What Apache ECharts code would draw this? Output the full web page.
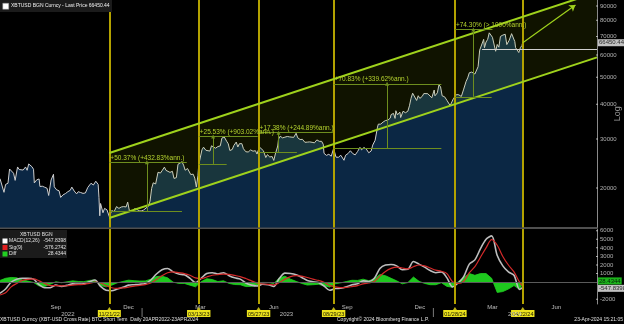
<!DOCTYPE html>
<html>
<head>
<meta charset="utf-8">
<script src="https://cdn.jsdelivr.net/npm/echarts@6.0.0/dist/echarts.min.js"></script>
<style>
html,body{margin:0;padding:0;background:#000;overflow:hidden;}
#chart{width:624px;height:324px;}
</style>
</head>
<body>
<div id="chart"></div>
<script>
// ================= DATA =================
const btcPrice = [
['2022-07-07',21600],['2022-07-09',21600],['2022-07-12',19300],['2022-07-14',20600],['2022-07-17',20800],['2022-07-19',23400],['2022-07-21',23200],['2022-07-24',22600],['2022-07-26',21300],['2022-07-29',23800],['2022-07-31',23300],['2022-08-02',22980],['2022-08-05',23200],['2022-08-08',23800],['2022-08-10',23150],['2022-08-12',24400],['2022-08-14',24300],['2022-08-16',23850],['2022-08-18',23350],['2022-08-19',20850],['2022-08-22',21400],['2022-08-25',21550],['2022-08-26',20250],['2022-08-29',20300],['2022-09-01',20130],['2022-09-04',19950],['2022-09-06',18800],['2022-09-09',21370],['2022-09-12',22400],['2022-09-13',20200],['2022-09-16',19700],['2022-09-19',19550],['2022-09-21',18500],['2022-09-24',18900],['2022-09-27',19100],['2022-09-30',19400],['2022-10-03',19620],['2022-10-05',20150],['2022-10-08',19500],['2022-10-11',19050],['2022-10-13',19400],['2022-10-16',19270],['2022-10-19',19130],['2022-10-22',19200],['2022-10-25',20100],['2022-10-27',20300],['2022-10-29',20800],['2022-11-01',20500],['2022-11-04',21150],['2022-11-06',20900],['2022-11-07',20600],['2022-11-08',18500],['2022-11-09',15900],['2022-11-10',17600],['2022-11-13',16300],['2022-11-15',16900],['2022-11-18',16700],['2022-11-21',15780],['2022-11-24',16600],['2022-11-27',16450],['2022-11-30',17150],['2022-12-03',16900],['2022-12-06',17100],['2022-12-09',17150],['2022-12-12',17100],['2022-12-14',17800],['2022-12-16',16650],['2022-12-19',16450],['2022-12-22',16820],['2022-12-25',16830],['2022-12-28',16550],['2022-12-31',16550],
['2023-01-03',16680],['2023-01-06',16950],['2023-01-09',17190],['2023-01-11',17950],['2023-01-13',19930],['2023-01-15',20880],['2023-01-18',20680],['2023-01-21',22780],['2023-01-24',22630],['2023-01-26',23060],['2023-01-29',23770],['2023-01-31',23140],['2023-02-02',23490],['2023-02-05',22760],['2023-02-08',22960],['2023-02-10',21650],['2023-02-13',21790],['2023-02-15',24330],['2023-02-17',24570],['2023-02-20',24840],['2023-02-22',24170],['2023-02-24',23170],['2023-02-27',23490],['2023-03-01',23650],['2023-03-03',22350],['2023-03-06',22430],['2023-03-08',21700],['2023-03-10',20160],['2023-03-12',22130],['2023-03-13',24200],['2023-03-15',24380],['2023-03-17',27420],['2023-03-19',28030],['2023-03-22',27310],['2023-03-24',27480],['2023-03-27',27140],['2023-03-29',28350],['2023-03-31',28470],['2023-04-03',27790],['2023-04-06',28170],['2023-04-09',28330],['2023-04-11',30210],['2023-04-14',30490],['2023-04-17',29430],['2023-04-19',28820],['2023-04-21',27260],['2023-04-24',27510],['2023-04-26',28420],['2023-04-29',29240],['2023-05-01',28070],['2023-05-03',28850],['2023-05-06',28860],['2023-05-08',27670],['2023-05-11',26990],['2023-05-14',26930],['2023-05-17',27400],['2023-05-20',27110],['2023-05-23',27230],['2023-05-25',26480],['2023-05-28',28070],['2023-05-30',27700],['2023-06-02',27220],['2023-06-05',25730],['2023-06-07',26350],['2023-06-10',25850],['2023-06-13',25940],['2023-06-15',25120],['2023-06-17',26500],['2023-06-20',28300],['2023-06-21',29990],['2023-06-23',30690],['2023-06-26',30270],['2023-06-29',30450],['2023-07-02',30620],['2023-07-05',30510],['2023-07-07',30290],['2023-07-10',30400],['2023-07-13',31450],['2023-07-15',30300],['2023-07-18',29860],['2023-07-21',29900],['2023-07-24',29180],['2023-07-27',29220],['2023-07-30',29280],['2023-08-02',29180],['2023-08-05',29050],['2023-08-08',29770],['2023-08-11',29420],['2023-08-14',29410],['2023-08-16',28700],['2023-08-17',26630],['2023-08-20',26190],['2023-08-23',26430],['2023-08-26',26010],['2023-08-29',27720],['2023-09-01',25810],['2023-09-04',25780],['2023-09-07',26220],['2023-09-11',25150],['2023-09-13',26220],['2023-09-16',26570],['2023-09-19',27210],['2023-09-22',26580],['2023-09-25',26300],['2023-09-28',27030],['2023-10-01',27980],['2023-10-03',27430],['2023-10-06',27950],['2023-10-09',27590],['2023-10-12',26760],['2023-10-15',27150],['2023-10-17',28520],['2023-10-20',29670],['2023-10-23',33090],['2023-10-24',33900],['2023-10-27',33910],['2023-10-30',34500],['2023-11-02',34940],['2023-11-05',35050],['2023-11-08',35650],['2023-11-09',36690],['2023-11-12',37050],['2023-11-14',35550],['2023-11-15',37880],['2023-11-17',36600],['2023-11-20',37470],['2023-11-21',35810],['2023-11-24',37720],['2023-11-27',37260],['2023-11-30',37720],['2023-12-02',39460],['2023-12-04',41980],['2023-12-06',43790],['2023-12-08',44170],['2023-12-11',41240],['2023-12-13',42880],['2023-12-15',41940],['2023-12-18',42650],['2023-12-20',43660],['2023-12-22',43980],['2023-12-25',43610],['2023-12-27',43440],['2023-12-30',42150],
['2024-01-02',44950],['2024-01-03',42850],['2024-01-06',43930],['2024-01-08',46970],['2024-01-10',46100],['2024-01-11',46630],['2024-01-12',42850],['2024-01-15',42510],['2024-01-18',41280],['2024-01-20',41680],['2024-01-22',39510],['2024-01-23',39850],['2024-01-26',41820],['2024-01-28',42030],['2024-01-30',43300],['2024-02-02',43190],['2024-02-05',42600],['2024-02-08',45290],['2024-02-11',48300],['2024-02-13',49700],['2024-02-15',51840],['2024-02-18',52140],['2024-02-20',52280],['2024-02-22',51300],['2024-02-24',51570],['2024-02-26',54520],['2024-02-28',62500],['2024-03-01',62390],['2024-03-04',68330],['2024-03-05',63800],['2024-03-07',66850],['2024-03-09',68310],['2024-03-11',72120],['2024-03-13',73100],['2024-03-15',69500],['2024-03-17',68390],['2024-03-19',61930],['2024-03-21',65500],['2024-03-23',64040],['2024-03-25',70000],['2024-03-28',70780],['2024-03-31',71280],['2024-04-02',65450],['2024-04-05',67850],['2024-04-08',71630],['2024-04-10',70630],['2024-04-12',67120],['2024-04-13',63800],['2024-04-15',63420],['2024-04-17',61280],['2024-04-19',63820],['2024-04-21',64940],['2024-04-22',66840],['2024-04-23',66450.44]
];
const lastPrice = 66450.44;
const priceTicks = [20000, 30000, 40000, 50000, 60000, 70000, 80000, 90000];

const macdDates = ['2022-07-07','2022-07-14','2022-07-21','2022-07-28','2022-08-04','2022-08-11','2022-08-18','2022-08-25','2022-09-01','2022-09-08','2022-09-15','2022-09-22','2022-09-29','2022-10-06','2022-10-13','2022-10-20','2022-10-27','2022-11-03','2022-11-10','2022-11-17','2022-11-24','2022-12-01','2022-12-08','2022-12-15','2022-12-22','2022-12-29','2023-01-05','2023-01-12','2023-01-19','2023-01-26','2023-02-02','2023-02-09','2023-02-16','2023-02-23','2023-03-02','2023-03-09','2023-03-16','2023-03-23','2023-03-30','2023-04-06','2023-04-13','2023-04-20','2023-04-27','2023-05-04','2023-05-11','2023-05-18','2023-05-25','2023-06-01','2023-06-08','2023-06-15','2023-06-22','2023-06-29','2023-07-06','2023-07-13','2023-07-20','2023-07-27','2023-08-03','2023-08-10','2023-08-17','2023-08-24','2023-08-31','2023-09-07','2023-09-14','2023-09-21','2023-09-28','2023-10-05','2023-10-12','2023-10-19','2023-10-26','2023-11-02','2023-11-09','2023-11-16','2023-11-23','2023-11-30','2023-12-07','2023-12-14','2023-12-21','2023-12-28','2024-01-04','2024-01-11','2024-01-18','2024-01-25','2024-02-01','2024-02-08','2024-02-15','2024-02-22','2024-02-29','2024-03-07','2024-03-14','2024-03-21','2024-03-28','2024-04-04','2024-04-11','2024-04-18','2024-04-23'];
const macdLine = [-1300,-800,0,350,450,450,350,-300,-650,-650,-350,-500,-380,-200,-220,-200,50,250,-500,-950,-1000,-800,-600,-350,-300,-250,-150,250,950,1450,1600,1200,950,850,450,-50,450,1000,1100,950,1100,750,500,350,-100,-350,-450,-250,-300,-500,450,1050,1000,850,550,200,50,-50,-450,-950,-750,-720,-550,-300,-200,150,80,450,1600,2000,2050,1900,1450,1500,2400,2100,1750,1350,1100,1200,500,-550,-100,650,2100,2600,3900,5000,5400,3100,1900,1200,800,-850,-547.8398];
const signalLine = [-1500,-1250,-550,-150,200,330,380,150,-150,-400,-400,-430,-420,-350,-300,-260,-150,0,-100,-400,-650,-720,-680,-580,-470,-380,-290,-100,300,750,1100,1200,1100,1000,800,500,400,600,800,880,940,900,780,650,420,150,-100,-220,-260,-330,-50,350,650,760,700,540,350,200,-20,-380,-560,-640,-620,-520,-400,-200,-90,80,700,1250,1600,1750,1650,1550,1800,2000,1900,1650,1400,1270,1000,50,-150,100,1100,1800,2900,4000,4950,4300,3000,2000,1200,0,-576.2742];
const diffValues = [200,450,550,500,250,120,-30,-450,-500,-250,50,-70,40,150,80,60,200,250,-400,-550,-350,-80,80,230,170,130,140,350,650,700,500,0,-150,-150,-350,-550,50,400,300,70,160,-150,-280,-300,-520,-500,-350,-30,-40,-170,500,700,350,90,-150,-340,-300,-250,-430,-570,-190,-80,70,220,200,350,170,370,900,750,450,150,-200,-50,600,100,-150,-300,-300,-70,-500,-600,50,550,1000,800,1000,1000,450,-1200,-1100,-800,-400,-850,28.4344];
const macdTicks = [6000, 5000, 4000, 3000, 2000, 1000, -2000];
const legendValues = { macd: '-547.8398', sig: '-576.2742', diff: '28.4344' };

const eventDates = ['2022-11-21','2023-03-13','2023-05-27','2023-08-29','2024-01-28','2024-04-22'];
const eventLabels = ['11/21/22','03/13/23','05/27/23','08/29/23','01/28/24','04/22/24'];

const annText = ['+50.37% (+432.83%ann.)','+25.53% (+903.02%ann.)','+17.38% (+244.89%ann.)','+70.83% (+339.62%ann.)','+74.30% (> 1000%ann.)'];
const annBase = [16450, 24400, 26900, 27700, 42500];
const annTop = [24740, 30630, 31580, 47320, 74080];
const annTopEnd = ['2023-02-26','2023-05-26','2023-08-28','2024-01-11','2024-03-15'];
const annBaseEnd = ['2023-02-20','2023-04-17','2023-07-14','2024-01-11','2024-03-14'];
const annMid = ['2023-01-07','2023-03-31','2023-06-21','2023-11-04','2024-02-20'];

const channelDates = ['2022-11-21', '2024-07-24'];
const channelUpper = [26700, 100800];
const channelLower = [15610, 58900];
const arrowFrom = ['2024-04-22', 66450];
const arrowTo = ['2024-06-27', 90700];
const supportDates = ['2024-03-02', '2024-07-24'];
const supportValue = 62900;

const monthLabelDates = ['2022-09-15','2022-12-15','2023-03-15','2023-06-15','2023-09-15','2023-12-15','2024-03-15','2024-06-03'];
const monthLabelText = ['Sep','Dec','Mar','Jun','Sep','Dec','Mar','Jun'];
const yearLabelDates = ['2022-09-30','2023-07-01','2024-04-12'];
const yearLabelText = ['2022','2023','2024'];
const yearSepDates = ['2023-01-01','2024-01-01'];

const xMin = '2022-07-07', xMax = '2024-07-24';
const macdMin = -2550, macdMax = 6200;

// ================= CHART =================
const FONT = "'Liberation Sans', Arial, sans-serif";
const EV_COLOR = '#b3a200';
const LIME = '#9fd21c';
const ANN_LINE = '#6e8e1e';
const ANN_TEXT = '#b4d22e';

const chart = echarts.init(document.getElementById('chart'), null, { renderer: 'canvas' });

const hiddenDot = { symbol: 'circle', symbolSize: 0.01, itemStyle: { color: 'rgba(0,0,0,0)' } };

const option = {
  backgroundColor: '#000',
  animation: false,
  textStyle: { fontFamily: FONT },
  grid: [
    { left: 0, right: 27, top: 0, bottom: 96.5, outerBoundsMode: 'none', containLabel: false },
    { left: 0, right: 27, top: 229, bottom: 20, outerBoundsMode: 'none', containLabel: false }
  ],
  xAxis: [
    { gridIndex: 0, type: 'time', min: xMin, max: xMax,
      axisLine: { show: true, lineStyle: { color: '#6a6a6a', width: 1.5 } },
      axisTick: { show: false }, axisLabel: { show: false }, splitLine: { show: false } },
    { gridIndex: 1, type: 'time', min: xMin, max: xMax,
      axisLine: { show: true, lineStyle: { color: '#8a8a8a', width: 1 } },
      axisTick: { show: false }, axisLabel: { show: false }, splitLine: { show: false } }
  ],
  yAxis: [
    { gridIndex: 0, type: 'log', position: 'right', min: 14430, max: 94600,
      axisLine: { show: true, lineStyle: { color: '#8a8a8a', width: 1 } },
      axisTick: { show: false }, axisLabel: { show: false }, splitLine: { show: false },
      name: 'Log', nameLocation: 'middle', nameGap: 16,
      nameTextStyle: { color: '#9a9a9a', fontSize: 9, fontFamily: FONT } },
    { gridIndex: 1, type: 'value', position: 'right', min: macdMin, max: macdMax,
      axisLine: { show: true, lineStyle: { color: '#8a8a8a', width: 1 } },
      axisTick: { show: false }, axisLabel: { show: false }, splitLine: { show: false } }
  ],
  series: [
    { name: 'price', type: 'line', xAxisIndex: 0, yAxisIndex: 0, z: 2,
      data: btcPrice, symbol: 'none', showSymbol: false,
      lineStyle: { color: '#cfcfcf', width: 1 },
      areaStyle: { color: '#0b2744', opacity: 1, origin: 'start' } },
    { name: 'channelFill', type: 'custom', xAxisIndex: 0, yAxisIndex: 0, z: 3, silent: true, clip: true,
      data: [0],
      renderItem: function (params, api) {
        const pts = [
          api.coord([channelDates[0], channelUpper[0]]),
          api.coord([channelDates[1], channelUpper[1]]),
          api.coord([channelDates[1], channelLower[1]]),
          api.coord([channelDates[0], channelLower[0]])
        ];
        return { type: 'polygon', shape: { points: pts }, style: { fill: 'rgba(175,205,0,0.095)' } };
      } },
    { name: 'upper', type: 'line', xAxisIndex: 0, yAxisIndex: 0, z: 5, symbol: 'none',
      data: [[channelDates[0], channelUpper[0]], [channelDates[1], channelUpper[1]]],
      lineStyle: { color: LIME, width: 2 },
      markLine: { silent: true, symbol: 'none', animation: false,
        lineStyle: { color: EV_COLOR, width: 2, type: 'solid' }, label: { show: false },
        data: eventDates.map(d => ({ xAxis: d })) } },
    { name: 'lower', type: 'line', xAxisIndex: 0, yAxisIndex: 0, z: 5, symbol: 'none',
      data: [[channelDates[0], channelLower[0]], [channelDates[1], channelLower[1]]],
      lineStyle: { color: LIME, width: 2 } },
    { name: 'annBase', type: 'lines', coordinateSystem: 'cartesian2d', xAxisIndex: 0, yAxisIndex: 0, z: 6,
      silent: true, symbol: 'none',
      lineStyle: { color: ANN_LINE, width: 1, opacity: 1 },
      data: annBase.map((v, i) => ({ coords: [[eventDates[i], v], [annBaseEnd[i], v]] })) },
    { name: 'annMid', type: 'lines', coordinateSystem: 'cartesian2d', xAxisIndex: 0, yAxisIndex: 0, z: 6,
      silent: true, symbol: ['none', 'triangle'], symbolSize: 4,
      lineStyle: { color: ANN_LINE, width: 1, opacity: 1 },
      data: annMid.map((d, i) => ({ coords: [[d, annBase[i]], [d, annTop[i]]] })) },
    { name: 'annTop', type: 'lines', coordinateSystem: 'cartesian2d', xAxisIndex: 0, yAxisIndex: 0, z: 7,
      silent: true, symbol: 'none',
      lineStyle: { color: ANN_LINE, width: 1, opacity: 1 },
      label: { show: true, position: 'insideStartTop', formatter: '{b}', color: ANN_TEXT, fontSize: 6.5,
        distance: 1, fontFamily: FONT },
      data: annTop.map((v, i) => ({ name: annText[i], coords: [[eventDates[i], v], [annTopEnd[i], v]] })) },
    { name: 'arrow', type: 'lines', coordinateSystem: 'cartesian2d', xAxisIndex: 0, yAxisIndex: 0, z: 7,
      silent: true, symbol: ['none', 'arrow'], symbolSize: 6,
      lineStyle: { color: LIME, width: 1.2, opacity: 1 },
      data: [{ coords: [arrowFrom, arrowTo] }] },
    { name: 'support', type: 'lines', coordinateSystem: 'cartesian2d', xAxisIndex: 0, yAxisIndex: 0, z: 7,
      silent: true, symbol: 'none',
      lineStyle: { color: '#d0d0d0', width: 1, opacity: 1 },
      data: [{ coords: [[supportDates[0], supportValue], [supportDates[1], supportValue]] }] },
    { name: 'priceTicks', type: 'scatter', xAxisIndex: 0, yAxisIndex: 0, z: 8, silent: true, clip: false,
      symbol: 'rect', symbolSize: [2, 1], itemStyle: { color: '#cfcfcf' },
      data: priceTicks.map(v => [xMax, v]),
      label: { show: true, position: 'right', distance: 2, formatter: p => String(p.value[1]),
        color: '#d8d8d8', fontSize: 6, fontFamily: FONT } },
    Object.assign({ name: 'lastTag', type: 'scatter', xAxisIndex: 0, yAxisIndex: 0, z: 9, silent: true, clip: false,
      data: [[xMax, lastPrice]],
      label: { show: true, position: 'right', distance: 1, formatter: p => p.value[1].toFixed(2),
        color: '#000', backgroundColor: '#f2f2f2', padding: [1, 1, 0, 1], fontSize: 6, fontFamily: FONT } }, hiddenDot),
    { name: 'Diff', type: 'line', xAxisIndex: 1, yAxisIndex: 1, z: 2, symbol: 'none',
      data: macdDates.map((d, i) => [d, diffValues[i]]),
      lineStyle: { color: '#22d022', width: 0.8 },
      areaStyle: { color: '#1ec81e', opacity: 1 } },
    { name: 'MACD', type: 'line', xAxisIndex: 1, yAxisIndex: 1, z: 3, symbol: 'none', smooth: 0.3,
      data: macdDates.map((d, i) => [d, macdLine[i]]),
      lineStyle: { color: '#bdbdbd', width: 1.6 } },
    { name: 'Sig', type: 'line', xAxisIndex: 1, yAxisIndex: 1, z: 4, symbol: 'none', smooth: 0.3,
      data: macdDates.map((d, i) => [d, signalLine[i]]),
      lineStyle: { color: '#d42a2a', width: 1.2 },
      markLine: { silent: true, symbol: 'none', animation: false,
        data: [{ yAxis: 0, lineStyle: { color: '#5a5a5a', width: 1, type: 'solid' }, label: { show: false } }]
          .concat(eventDates.map((d, i) => ({
            xAxis: d,
            lineStyle: { color: EV_COLOR, width: 2, type: 'solid' },
            label: { show: true, position: 'start', formatter: eventLabels[i], color: '#1a1a00',
              backgroundColor: '#ece21c', fontSize: 5.5, padding: [1, 1, 0, 1], distance: 6, fontFamily: FONT }
          }))) } },
    { name: 'eventPointers', type: 'scatter', xAxisIndex: 1, yAxisIndex: 1, z: 9, silent: true, clip: false,
      symbol: 'triangle', symbolSize: [4, 3], symbolOffset: [0, 4.5], itemStyle: { color: '#ece21c' },
      data: eventDates.map(d => [d, macdMin]) },
    { name: 'macdTicks', type: 'scatter', xAxisIndex: 1, yAxisIndex: 1, z: 8, silent: true, clip: false,
      symbol: 'rect', symbolSize: [2, 1], itemStyle: { color: '#cfcfcf' },
      data: macdTicks.map(v => [xMax, v]),
      label: { show: true, position: 'right', distance: 2, formatter: p => String(p.value[1]),
        color: '#d8d8d8', fontSize: 6, fontFamily: FONT } },
    Object.assign({ name: 'macdTags', type: 'scatter', xAxisIndex: 1, yAxisIndex: 1, z: 9, silent: true, clip: false,
      data: [
        { value: [xMax, macdLine[macdLine.length - 1]],
          label: { backgroundColor: '#f2f2f2', color: '#000', offset: [0, 1.5] } },
        { value: [xMax, diffValues[diffValues.length - 1]],
          label: { backgroundColor: '#22e022', color: '#000', offset: [0, -1] } }
      ],
      label: { show: true, position: 'right', distance: 1, formatter: p => String(p.value[1]),
        padding: [1, 1, 0, 1], fontSize: 6, fontFamily: FONT } }, hiddenDot),
    Object.assign({ name: 'months', type: 'scatter', xAxisIndex: 1, yAxisIndex: 1, z: 8, silent: true, clip: false,
      data: monthLabelDates.map((d, i) => ({ name: monthLabelText[i], value: [d, macdMin] })),
      label: { show: true, position: 'bottom', distance: 0.5, formatter: '{b}', color: '#e0e0e0', fontSize: 6, fontFamily: FONT } }, hiddenDot),
    Object.assign({ name: 'years', type: 'scatter', xAxisIndex: 1, yAxisIndex: 1, z: 7, silent: true, clip: false,
      data: yearLabelDates.map((d, i) => ({ name: yearLabelText[i], value: [d, macdMin] })),
      label: { show: true, position: 'bottom', distance: 7.5, formatter: '{b}', color: '#e0e0e0', fontSize: 6, fontFamily: FONT } }, hiddenDot),
    { name: 'yearSep', type: 'scatter', xAxisIndex: 1, yAxisIndex: 1, z: 7, silent: true, clip: false,
      symbol: 'rect', symbolSize: [1, 9], symbolOffset: [0, 8.5], itemStyle: { color: '#9a9a9a' },
      data: yearSepDates.map(d => [d, macdMin]) }
  ],
  graphic: [
    { type: 'rect', left: 0, top: 0, z: 100, shape: { width: 112, height: 12 }, style: { fill: '#1b1b1b' } },
    { type: 'rect', left: 2.5, top: 3, z: 101, shape: { width: 6, height: 6 }, style: { fill: '#ffffff', stroke: '#888', lineWidth: 0.5 } },
    { type: 'text', left: 11, top: 3.5, z: 101,
      style: { text: 'XBTUSD BGN Curncy - Last Price 66450.44', fill: '#f0f0f0', font: '5px ' + FONT } },
    { type: 'rect', left: 0, top: 230, z: 100, shape: { width: 67, height: 28 }, style: { fill: '#1b1b1b' } },
    { type: 'text', left: 20, top: 232, z: 101, style: { text: 'XBTUSD BGN', fill: '#e0e0e0', font: '5px ' + FONT } },
    { type: 'rect', left: 2.5, top: 238.5, z: 101, shape: { width: 5, height: 5 }, style: { fill: '#ffffff' } },
    { type: 'text', left: 9, top: 238.5, z: 101, style: { text: 'MACD(12,26)', fill: '#e0e0e0', font: '5px ' + FONT } },
    { type: 'text', right: 558, top: 238.5, z: 101, style: { text: legendValues.macd, fill: '#e0e0e0', font: '5px ' + FONT } },
    { type: 'rect', left: 2.5, top: 245, z: 101, shape: { width: 5, height: 5 }, style: { fill: '#e02020' } },
    { type: 'text', left: 9, top: 245, z: 101, style: { text: 'Sig(9)', fill: '#e0e0e0', font: '5px ' + FONT } },
    { type: 'text', right: 558, top: 245, z: 101, style: { text: legendValues.sig, fill: '#e0e0e0', font: '5px ' + FONT } },
    { type: 'rect', left: 2.5, top: 251.5, z: 101, shape: { width: 5, height: 5 }, style: { fill: '#22d022' } },
    { type: 'text', left: 9, top: 251.5, z: 101, style: { text: 'Diff', fill: '#e0e0e0', font: '5px ' + FONT } },
    { type: 'text', right: 558, top: 251.5, z: 101, style: { text: legendValues.diff, fill: '#e0e0e0', font: '5px ' + FONT } },
    { type: 'text', left: 0, top: 317.5, z: 101,
      style: { text: 'XBTUSD Curncy (XBT-USD Cross Rate) BTC Short Term  Daily 20APR2022-23APR2024', fill: '#e0e0e0', font: '5px ' + FONT } },
    { type: 'text', left: 337, top: 317.5, z: 101,
      style: { text: 'Copyright\u00A9 2024 Bloomberg Finance L.P.', fill: '#e0e0e0', font: '5px ' + FONT } },
    { type: 'text', right: 1, top: 317.5, z: 101,
      style: { text: '23-Apr-2024 15:21:05', fill: '#e0e0e0', font: '5px ' + FONT } }
  ]
};
chart.setOption(option);
</script>
</body>
</html>
